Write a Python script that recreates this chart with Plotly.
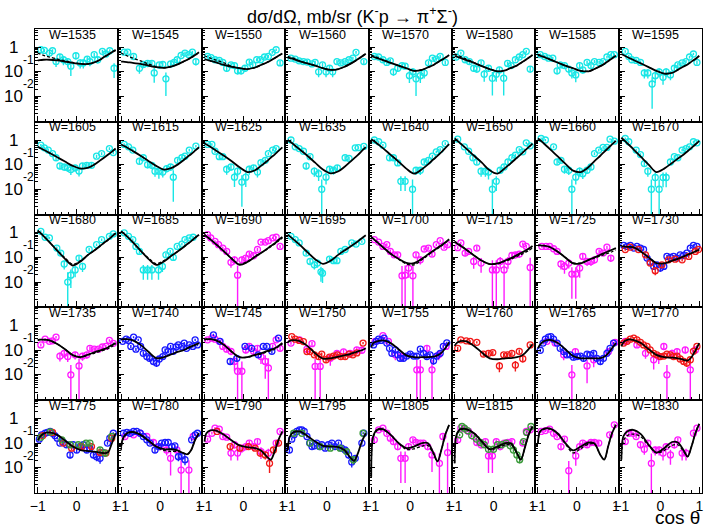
import plotly.graph_objects as go
from plotly.subplots import make_subplots

# energies (MeV) of the 40 panels, read left-to-right, top-to-bottom
W_LIST = [1535, 1545, 1550, 1560, 1570, 1580, 1585, 1595,
          1605, 1615, 1625, 1635, 1640, 1650, 1660, 1670,
          1680, 1685, 1690, 1695, 1700, 1715, 1725, 1730,
          1735, 1740, 1745, 1750, 1755, 1760, 1765, 1770,
          1775, 1780, 1790, 1795, 1805, 1815, 1820, 1830]

COS_GRID = [-1, -0.95, -0.85, -0.7, -0.5, -0.3, -0.1, 0.1, 0.3, 0.45, 0.6, 0.7, 0.8, 0.9, 1]

# model curves, mb/sr (solid)
SOLID = {
    1535: [0.29, 0.30, 0.31, 0.31, 0.29, 0.26, 0.23, 0.21, 0.21, 0.24, 0.31, 0.40, 0.49, 0.62, 0.76],
    1545: [0.26, 0.26, 0.25, 0.23, 0.21, 0.18, 0.155, 0.145, 0.165, 0.20, 0.26, 0.31, 0.38, 0.48, 0.62],
    1550: [0.33, 0.31, 0.28, 0.24, 0.19, 0.16, 0.14, 0.13, 0.15, 0.19, 0.24, 0.29, 0.36, 0.45, 0.56],
    1560: [0.38, 0.36, 0.33, 0.27, 0.22, 0.18, 0.14, 0.12, 0.13, 0.16, 0.21, 0.26, 0.33, 0.42, 0.54],
    1570: [0.44, 0.41, 0.36, 0.30, 0.23, 0.18, 0.14, 0.11, 0.12, 0.15, 0.19, 0.24, 0.30, 0.37, 0.48],
    1580: [0.45, 0.42, 0.37, 0.30, 0.23, 0.17, 0.13, 0.105, 0.115, 0.145, 0.18, 0.23, 0.29, 0.37, 0.48],
    1585: [0.48, 0.45, 0.40, 0.32, 0.24, 0.18, 0.14, 0.11, 0.105, 0.13, 0.17, 0.21, 0.27, 0.35, 0.45],
    1595: [0.53, 0.48, 0.40, 0.31, 0.22, 0.155, 0.11, 0.085, 0.09, 0.12, 0.165, 0.20, 0.26, 0.33, 0.45],
    1605: [0.53, 0.48, 0.40, 0.30, 0.20, 0.133, 0.089, 0.069, 0.076, 0.10, 0.146, 0.19, 0.25, 0.33, 0.45],
    1615: [0.66, 0.60, 0.50, 0.36, 0.23, 0.142, 0.089, 0.063, 0.074, 0.10, 0.15, 0.205, 0.27, 0.37, 0.51],
    1625: [0.72, 0.66, 0.53, 0.37, 0.23, 0.137, 0.078, 0.050, 0.059, 0.089, 0.137, 0.19, 0.255, 0.36, 0.50],
    1635: [1.0, 0.87, 0.66, 0.42, 0.23, 0.12, 0.063, 0.044, 0.054, 0.08, 0.13, 0.18, 0.25, 0.36, 0.51],
    1640: [1.08, 0.96, 0.72, 0.47, 0.25, 0.133, 0.069, 0.043, 0.065, 0.10, 0.165, 0.225, 0.32, 0.47, 0.68],
    1650: [1.15, 1.0, 0.72, 0.45, 0.23, 0.12, 0.059, 0.043, 0.074, 0.117, 0.19, 0.26, 0.37, 0.51, 0.72],
    1660: [1.15, 1.0, 0.72, 0.44, 0.22, 0.11, 0.057, 0.05, 0.08, 0.14, 0.23, 0.33, 0.47, 0.66, 0.93],
    1670: [1.23, 1.05, 0.74, 0.44, 0.21, 0.10, 0.05, 0.069, 0.117, 0.175, 0.26, 0.35, 0.48, 0.66, 0.93],
    1680: [1.23, 1.05, 0.74, 0.42, 0.19, 0.088, 0.047, 0.069, 0.13, 0.19, 0.29, 0.39, 0.51, 0.70, 0.96],
    1685: [1.15, 0.99, 0.72, 0.42, 0.19, 0.088, 0.05, 0.069, 0.12, 0.175, 0.26, 0.35, 0.46, 0.63, 0.84],
    1690: [0.84, 0.72, 0.54, 0.34, 0.175, 0.088, 0.05, 0.065, 0.107, 0.15, 0.22, 0.29, 0.37, 0.51, 0.68],
    1695: [0.84, 0.72, 0.53, 0.33, 0.165, 0.085, 0.055, 0.074, 0.13, 0.19, 0.27, 0.35, 0.45, 0.60, 0.79],
    1700: [0.68, 0.58, 0.42, 0.26, 0.14, 0.088, 0.06, 0.058, 0.088, 0.13, 0.19, 0.24, 0.31, 0.41, 0.55],
    1715: [0.42, 0.38, 0.30, 0.205, 0.12, 0.073, 0.054, 0.057, 0.075, 0.094, 0.125, 0.15, 0.18, 0.225, 0.29],
    1725: [0.31, 0.31, 0.30, 0.265, 0.175, 0.10, 0.057, 0.057, 0.08, 0.10, 0.128, 0.15, 0.175, 0.205, 0.24],
    1730: [0.28, 0.28, 0.27, 0.26, 0.175, 0.10, 0.059, 0.057, 0.073, 0.088, 0.11, 0.128, 0.15, 0.175, 0.205],
    1735: [0.26, 0.27, 0.27, 0.25, 0.18, 0.11, 0.063, 0.052, 0.067, 0.082, 0.098, 0.11, 0.13, 0.16, 0.195],
    1740: [0.265, 0.28, 0.28, 0.25, 0.165, 0.087, 0.048, 0.052, 0.069, 0.085, 0.10, 0.12, 0.143, 0.165, 0.195],
    1745: [0.26, 0.28, 0.28, 0.25, 0.165, 0.087, 0.052, 0.052, 0.065, 0.075, 0.092, 0.103, 0.12, 0.15, 0.195],
    1750: [0.21, 0.24, 0.255, 0.235, 0.15, 0.075, 0.046, 0.047, 0.055, 0.062, 0.07, 0.08, 0.09, 0.10, 0.12],
    1755: [0.13, 0.195, 0.23, 0.25, 0.195, 0.11, 0.062, 0.052, 0.052, 0.052, 0.055, 0.062, 0.078, 0.12, 0.21],
    1760: [0.15, 0.195, 0.235, 0.23, 0.15, 0.08, 0.047, 0.043, 0.047, 0.048, 0.052, 0.058, 0.075, 0.11, 0.175],
    1765: [0.12, 0.165, 0.23, 0.265, 0.20, 0.11, 0.058, 0.047, 0.047, 0.047, 0.048, 0.054, 0.075, 0.12, 0.195],
    1770: [0.143, 0.21, 0.265, 0.265, 0.195, 0.11, 0.065, 0.052, 0.05, 0.047, 0.041, 0.038, 0.052, 0.097, 0.195],
    1775: [0.127, 0.173, 0.24, 0.27, 0.215, 0.127, 0.072, 0.052, 0.047, 0.045, 0.041, 0.039, 0.041, 0.095, 0.25],
    1780: [0.07, 0.157, 0.25, 0.28, 0.215, 0.127, 0.072, 0.056, 0.056, 0.05, 0.039, 0.035, 0.052, 0.135, 0.25],
    1790: [0.115, 0.25, 0.325, 0.32, 0.215, 0.127, 0.08, 0.068, 0.062, 0.05, 0.028, 0.021, 0.045, 0.135, 0.295],
    1795: [0.052, 0.184, 0.277, 0.295, 0.195, 0.115, 0.077, 0.072, 0.068, 0.052, 0.026, 0.019, 0.039, 0.115, 0.25],
    1805: [0.0043, 0.184, 0.345, 0.37, 0.215, 0.1, 0.062, 0.072, 0.1, 0.1, 0.039, 0.018, 0.052, 0.215, 0.55],
    1815: [0.015, 0.215, 0.37, 0.37, 0.25, 0.115, 0.056, 0.072, 0.1, 0.095, 0.039, 0.021, 0.062, 0.215, 0.47],
    1820: [0.1, 0.295, 0.38, 0.39, 0.25, 0.1, 0.05, 0.072, 0.105, 0.095, 0.033, 0.021, 0.072, 0.25, 0.55],
    1830: [0.021, 0.184, 0.295, 0.345, 0.23, 0.085, 0.041, 0.062, 0.11, 0.105, 0.05, 0.028, 0.072, 0.25, 0.6],
}

# second model (dashed), only where it visibly differs from the solid one
DASHED = {
    1535: [0.58, 0.54, 0.47, 0.40, 0.33, 0.28, 0.24, 0.21, 0.21, 0.24, 0.31, 0.40, 0.49, 0.62, 0.76],
    1545: [0.58, 0.53, 0.45, 0.36, 0.28, 0.21, 0.165, 0.145, 0.165, 0.20, 0.26, 0.31, 0.38, 0.48, 0.62],
    1550: [0.45, 0.42, 0.36, 0.30, 0.23, 0.17, 0.14, 0.13, 0.15, 0.19, 0.24, 0.29, 0.36, 0.45, 0.56],
    1560: [0.43, 0.40, 0.36, 0.28, 0.22, 0.18, 0.14, 0.12, 0.13, 0.16, 0.21, 0.26, 0.33, 0.42, 0.54],
    1570: [0.48, 0.45, 0.39, 0.31, 0.23, 0.18, 0.14, 0.11, 0.12, 0.15, 0.19, 0.24, 0.30, 0.37, 0.48],
    1580: [0.52, 0.49, 0.42, 0.33, 0.24, 0.17, 0.13, 0.105, 0.115, 0.145, 0.18, 0.23, 0.29, 0.37, 0.48],
    1585: [0.51, 0.48, 0.41, 0.33, 0.24, 0.18, 0.14, 0.11, 0.105, 0.13, 0.17, 0.21, 0.27, 0.35, 0.45],
    1680: [1.23, 1.05, 0.74, 0.42, 0.19, 0.095, 0.053, 0.074, 0.13, 0.19, 0.29, 0.39, 0.51, 0.70, 0.96],
    1685: [1.15, 0.99, 0.72, 0.42, 0.19, 0.095, 0.056, 0.074, 0.12, 0.175, 0.26, 0.35, 0.46, 0.63, 0.84],
    1690: [0.84, 0.72, 0.54, 0.34, 0.175, 0.09, 0.053, 0.068, 0.11, 0.155, 0.21, 0.27, 0.35, 0.47, 0.62],
    1700: [0.68, 0.58, 0.42, 0.26, 0.14, 0.085, 0.055, 0.05, 0.08, 0.12, 0.18, 0.23, 0.29, 0.39, 0.52],
    1715: [0.45, 0.40, 0.32, 0.21, 0.12, 0.073, 0.054, 0.055, 0.07, 0.085, 0.11, 0.13, 0.155, 0.19, 0.24],
    1725: [0.31, 0.31, 0.30, 0.265, 0.175, 0.10, 0.06, 0.06, 0.078, 0.095, 0.115, 0.13, 0.15, 0.17, 0.20],
    1735: [0.26, 0.27, 0.27, 0.25, 0.18, 0.11, 0.063, 0.052, 0.064, 0.075, 0.09, 0.10, 0.115, 0.14, 0.175],
    1745: [0.26, 0.28, 0.28, 0.25, 0.165, 0.087, 0.052, 0.052, 0.062, 0.07, 0.085, 0.095, 0.11, 0.14, 0.18],
    1780: [0.05, 0.14, 0.24, 0.28, 0.215, 0.127, 0.072, 0.05, 0.046, 0.045, 0.039, 0.035, 0.052, 0.135, 0.25],
    1805: [0.0043, 0.17, 0.32, 0.35, 0.215, 0.1, 0.055, 0.058, 0.075, 0.08, 0.035, 0.018, 0.052, 0.215, 0.55],
    1815: [0.015, 0.2, 0.35, 0.36, 0.25, 0.115, 0.056, 0.062, 0.085, 0.085, 0.039, 0.021, 0.062, 0.215, 0.47],
    1820: [0.1, 0.28, 0.36, 0.37, 0.24, 0.095, 0.04, 0.06, 0.09, 0.09, 0.033, 0.021, 0.072, 0.25, 0.55],
    1830: [0.021, 0.12, 0.2, 0.23, 0.18, 0.08, 0.04, 0.05, 0.08, 0.085, 0.045, 0.028, 0.072, 0.25, 0.6],
}

# measured points: (cos theta, dsigma/dOmega mb/sr, relative error)
CYAN = {
    1535: [(-0.92, 0.79, 0.15), (-0.83, 0.74, 0.15), (-0.70, 0.58, 0.2), (-0.62, 0.72, 0.15), (-0.53, 0.26, 0.4),
           (-0.43, 0.40, 0.3), (-0.34, 0.31, 0.4), (-0.23, 0.26, 0.4), (-0.15, 0.17, 0.6), (-0.02, 0.45, 0.3),
           (0.09, 0.23, 0.4), (0.17, 0.23, 0.4), (0.27, 0.33, 0.3), (0.34, 0.26, 0.35), (0.45, 0.50, 0.2),
           (0.54, 0.31, 0.3), (0.66, 0.68, 0.15), (0.75, 0.53, 0.2), (0.85, 0.72, 0.15), (0.96, 0.14, 0.6)],
    1545: [(-0.92, 0.63, 0.15), (-0.83, 0.63, 0.15), (-0.68, 0.42, 0.2), (-0.53, 0.14, 0.4), (-0.43, 0.20, 0.3),
           (-0.32, 0.22, 0.3), (-0.21, 0.22, 0.3), (-0.15, 0.09, 0.6), (-0.02, 0.19, 0.3), (0.07, 0.20, 0.3),
           (0.15, 0.052, 0.8), (0.27, 0.21, 0.3), (0.36, 0.24, 0.25), (0.44, 0.31, 0.2), (0.54, 0.46, 0.15),
           (0.64, 0.58, 0.15), (0.74, 0.50, 0.15), (0.83, 0.63, 0.15), (0.92, 0.26, 0.3)],
    1550: [(-0.92, 0.42, 0.15), (-0.83, 0.38, 0.15), (-0.73, 0.31, 0.2), (-0.62, 0.29, 0.2), (-0.53, 0.24, 0.2),
           (-0.43, 0.14, 0.3), (-0.32, 0.19, 0.25), (-0.23, 0.18, 0.25), (-0.15, 0.11, 0.3), (-0.06, 0.11, 0.3),
           (0.04, 0.14, 0.3), (0.15, 0.25, 0.2), (0.24, 0.19, 0.2), (0.34, 0.31, 0.15), (0.44, 0.31, 0.15),
           (0.54, 0.40, 0.15), (0.64, 0.42, 0.15), (0.74, 0.62, 0.12), (0.84, 0.79, 0.12), (0.94, 0.23, 0.25)],
    1560: [(-0.92, 0.36, 0.15), (-0.81, 0.33, 0.15), (-0.71, 0.28, 0.2), (-0.60, 0.26, 0.2), (-0.50, 0.25, 0.2),
           (-0.38, 0.21, 0.2), (-0.30, 0.24, 0.2), (-0.21, 0.10, 0.4), (-0.11, 0.19, 0.25), (-0.02, 0.10, 0.4),
           (0.07, 0.14, 0.3), (0.15, 0.10, 0.4), (0.26, 0.26, 0.2), (0.36, 0.23, 0.2), (0.47, 0.26, 0.2),
           (0.57, 0.31, 0.15), (0.67, 0.36, 0.15), (0.75, 0.62, 0.12), (0.95, 0.26, 0.2)],
    1570: [(-0.92, 0.42, 0.15), (-0.81, 0.40, 0.15), (-0.70, 0.31, 0.2), (-0.60, 0.24, 0.2), (-0.51, 0.28, 0.2),
           (-0.43, 0.10, 0.3), (-0.32, 0.14, 0.3), (-0.21, 0.18, 0.25), (-0.13, 0.17, 0.25), (-0.02, 0.07, 0.5),
           (0.07, 0.10, 0.4), (0.15, 0.052, 0.8), (0.26, 0.07, 0.5), (0.36, 0.09, 0.4), (0.47, 0.23, 0.2),
           (0.57, 0.36, 0.15), (0.67, 0.33, 0.15), (0.77, 0.42, 0.15), (0.90, 0.24, 0.2)],
    1580: [(-0.96, 0.40, 0.15), (-0.84, 0.58, 0.12), (-0.73, 0.31, 0.2), (-0.62, 0.26, 0.2), (-0.51, 0.14, 0.3),
           (-0.43, 0.13, 0.3), (-0.32, 0.23, 0.25), (-0.24, 0.08, 0.5), (-0.13, 0.14, 0.3), (-0.03, 0.055, 0.8),
           (0.07, 0.08, 0.5), (0.15, 0.12, 0.35), (0.26, 0.055, 0.8), (0.36, 0.22, 0.2), (0.45, 0.18, 0.2),
           (0.56, 0.31, 0.15), (0.66, 0.40, 0.15), (0.75, 0.50, 0.12), (0.84, 0.68, 0.12), (0.94, 0.13, 0.3)],
    1585: [(-0.94, 0.50, 0.15), (-0.83, 0.42, 0.15), (-0.73, 0.36, 0.15), (-0.62, 0.36, 0.15), (-0.51, 0.11, 0.3),
           (-0.43, 0.19, 0.25), (-0.32, 0.18, 0.25), (-0.21, 0.13, 0.3), (-0.13, 0.09, 0.4), (-0.03, 0.075, 0.5),
           (0.07, 0.18, 0.25), (0.15, 0.12, 0.3), (0.26, 0.24, 0.2), (0.36, 0.18, 0.2), (0.45, 0.26, 0.15),
           (0.57, 0.24, 0.15), (0.67, 0.26, 0.15), (0.77, 0.40, 0.12), (0.87, 0.50, 0.12), (0.96, 0.50, 0.12)],
    1595: [(-0.90, 0.68, 0.12), (-0.81, 0.42, 0.15), (-0.73, 0.31, 0.15), (-0.62, 0.29, 0.2), (-0.51, 0.24, 0.2),
           (-0.41, 0.09, 0.4), (-0.32, 0.09, 0.4), (-0.21, 0.032, 0.9), (-0.13, 0.07, 0.5), (-0.03, 0.10, 0.4),
           (0.07, 0.06, 0.5), (0.15, 0.10, 0.4), (0.26, 0.075, 0.4), (0.36, 0.14, 0.25), (0.45, 0.19, 0.2),
           (0.56, 0.23, 0.15), (0.66, 0.26, 0.15), (0.75, 0.40, 0.12), (0.85, 0.53, 0.12), (0.94, 0.24, 0.2)],
    1605: [(-0.92, 0.62, 0.12), (-0.83, 0.48, 0.12), (-0.73, 0.39, 0.15), (-0.62, 0.28, 0.15), (-0.53, 0.19, 0.2),
           (-0.43, 0.089, 0.3), (-0.32, 0.08, 0.3), (-0.23, 0.074, 0.3), (-0.15, 0.063, 0.4), (-0.04, 0.074, 0.3),
           (0.06, 0.055, 0.4), (0.15, 0.089, 0.3), (0.26, 0.094, 0.3), (0.38, 0.094, 0.25), (0.51, 0.22, 0.15),
           (0.64, 0.28, 0.15), (0.84, 0.45, 0.12), (0.94, 0.31, 0.15)],
    1615: [(-0.92, 0.66, 0.12), (-0.81, 0.53, 0.12), (-0.70, 0.39, 0.15), (-0.53, 0.137, 0.25), (-0.43, 0.19, 0.2),
           (-0.32, 0.10, 0.3), (-0.21, 0.094, 0.3), (-0.13, 0.054, 0.4), (-0.03, 0.054, 0.5), (0.07, 0.05, 0.4),
           (0.17, 0.069, 0.3), (0.27, 0.08, 0.3), (0.34, 0.031, 0.9), (0.45, 0.15, 0.2), (0.56, 0.19, 0.15),
           (0.64, 0.22, 0.15), (0.75, 0.39, 0.12), (0.92, 0.56, 0.12)],
    1625: [(-0.92, 0.66, 0.12), (-0.81, 0.66, 0.12), (-0.73, 0.35, 0.15), (-0.62, 0.21, 0.2), (-0.53, 0.21, 0.2),
           (-0.43, 0.065, 0.4), (-0.32, 0.08, 0.3), (-0.23, 0.031, 0.6), (-0.15, 0.054, 0.4), (-0.04, 0.0195, 0.9),
           (0.06, 0.031, 0.6), (0.15, 0.065, 0.4), (0.26, 0.074, 0.3), (0.36, 0.05, 0.4), (0.45, 0.12, 0.25),
           (0.56, 0.15, 0.2), (0.64, 0.28, 0.15), (0.75, 0.39, 0.12), (0.84, 0.45, 0.12)],
    1635: [(-0.92, 1.0, 0.12), (-0.81, 0.53, 0.12), (-0.71, 0.45, 0.12), (-0.60, 0.35, 0.15), (-0.53, 0.089, 0.3),
           (-0.43, 0.21, 0.2), (-0.32, 0.054, 0.4), (-0.21, 0.043, 0.5), (-0.13, 0.01, 1.5), (-0.02, 0.031, 0.5),
           (0.07, 0.065, 0.35), (0.17, 0.06, 0.35), (0.27, 0.074, 0.3), (0.47, 0.19, 0.2), (0.57, 0.18, 0.2),
           (0.73, 0.48, 0.12), (0.81, 0.49, 0.12), (0.95, 0.55, 0.12)],
    1640: [(-0.92, 1.0, 0.12), (-0.81, 0.85, 0.12), (-0.70, 0.62, 0.12), (-0.53, 0.19, 0.2), (-0.43, 0.19, 0.2),
           (-0.32, 0.117, 0.25), (-0.24, 0.021, 0.6), (-0.13, 0.021, 0.6), (0.06, 0.01, 1.5), (0.15, 0.059, 0.35),
           (0.26, 0.059, 0.35), (0.36, 0.128, 0.2), (0.47, 0.15, 0.2), (0.57, 0.22, 0.15), (0.67, 0.33, 0.12),
           (0.77, 0.41, 0.12), (0.90, 0.72, 0.12)],
    1650: [(-0.92, 1.08, 0.1), (-0.75, 0.53, 0.12), (-0.64, 0.35, 0.15), (-0.53, 0.19, 0.2), (-0.43, 0.128, 0.2),
           (-0.32, 0.054, 0.4), (-0.21, 0.054, 0.4), (-0.13, 0.05, 0.5), (-0.03, 0.01, 1.5), (0.07, 0.021, 0.6),
           (0.17, 0.059, 0.3), (0.27, 0.08, 0.25), (0.37, 0.128, 0.2), (0.47, 0.19, 0.15), (0.56, 0.24, 0.15),
           (0.66, 0.41, 0.12), (0.75, 0.33, 0.12), (0.84, 0.77, 0.1), (0.94, 0.58, 0.12)],
    1660: [(-0.92, 1.15, 0.1), (-0.81, 1.0, 0.1), (-0.60, 0.53, 0.12), (-0.51, 0.128, 0.25), (-0.41, 0.15, 0.2),
           (-0.32, 0.065, 0.35), (-0.21, 0.059, 0.35), (-0.13, 0.01, 1.5), (-0.03, 0.031, 0.5), (0.07, 0.054, 0.4),
           (0.15, 0.043, 0.4), (0.26, 0.059, 0.3), (0.36, 0.08, 0.25), (0.45, 0.28, 0.15), (0.56, 0.39, 0.12),
           (0.67, 0.50, 0.12), (0.77, 0.50, 0.12), (0.85, 1.08, 0.1), (0.96, 0.90, 0.1)],
    1670: [(-0.90, 1.15, 0.1), (-0.81, 0.85, 0.1), (-0.62, 0.39, 0.12), (-0.51, 0.255, 0.15), (-0.41, 0.11, 0.25),
           (-0.32, 0.054, 0.4), (-0.23, 0.01, 1.5), (-0.13, 0.03, 0.6), (-0.03, 0.01, 1.5), (0.07, 0.03, 0.6),
           (0.15, 0.03, 0.6), (0.26, 0.128, 0.2), (0.36, 0.21, 0.15), (0.45, 0.19, 0.15), (0.56, 0.39, 0.12),
           (0.66, 0.45, 0.12), (0.75, 0.53, 0.12), (0.85, 0.85, 0.1), (0.94, 0.77, 0.1)],
    1680: [(-0.92, 1.15, 0.1), (-0.81, 0.66, 0.12), (-0.70, 0.62, 0.12), (-0.51, 0.24, 0.15), (-0.41, 0.15, 0.2),
           (-0.32, 0.054, 0.4), (-0.23, 0.01, 1.5), (-0.15, 0.019, 0.7), (-0.04, 0.031, 0.5), (0.06, 0.094, 0.25),
           (0.15, 0.043, 0.4), (0.32, 0.21, 0.15), (0.51, 0.33, 0.12), (0.64, 0.53, 0.12), (0.84, 0.72, 0.1),
           (0.94, 0.90, 0.1)],
    1685: [(-0.92, 1.0, 0.1), (-0.81, 0.72, 0.1), (-0.70, 0.53, 0.12), (-0.62, 0.28, 0.15), (-0.53, 0.175, 0.2),
           (-0.43, 0.031, 0.6), (-0.32, 0.031, 0.6), (-0.21, 0.031, 0.6), (-0.04, 0.031, 0.6), (0.06, 0.043, 0.4),
           (0.15, 0.128, 0.2), (0.26, 0.175, 0.15), (0.34, 0.10, 0.25), (0.44, 0.28, 0.15), (0.56, 0.35, 0.12),
           (0.64, 0.53, 0.12), (0.75, 0.62, 0.12), (0.85, 0.66, 0.12)],
    1695: [(-0.92, 0.72, 0.1), (-0.81, 0.53, 0.12), (-0.71, 0.39, 0.12), (-0.53, 0.15, 0.2), (-0.43, 0.069, 0.3),
           (-0.32, 0.05, 0.35), (-0.24, 0.059, 0.35), (-0.15, 0.026, 0.6), (-0.11, 0.023, 0.6), (0.07, 0.086, 0.25),
           (0.17, 0.074, 0.25), (0.26, 0.074, 0.25), (0.36, 0.175, 0.15), (0.47, 0.21, 0.15), (0.64, 0.39, 0.12),
           (0.75, 0.35, 0.12), (0.90, 0.45, 0.12)],
}

MAGENTA = {
    1690: [(-0.92, 0.84, 0.1), (-0.84, 0.62, 0.12), (-0.73, 0.45, 0.12), (-0.64, 0.33, 0.15), (-0.53, 0.24, 0.15),
           (-0.43, 0.175, 0.2), (-0.32, 0.063, 0.4), (-0.23, 0.08, 0.35), (-0.15, 0.019, 1.5), (-0.04, 0.08, 0.35),
           (0.06, 0.094, 0.3), (0.15, 0.137, 0.25), (0.26, 0.117, 0.25), (0.36, 0.21, 0.15), (0.45, 0.42, 0.12),
           (0.56, 0.42, 0.12), (0.64, 0.48, 0.12), (0.75, 0.62, 0.1), (0.84, 0.66, 0.1), (0.94, 0.28, 0.15)],
    1700: [(-0.92, 0.53, 0.12), (-0.81, 0.42, 0.12), (-0.70, 0.28, 0.15), (-0.60, 0.33, 0.15), (-0.51, 0.175, 0.2),
           (-0.41, 0.128, 0.25), (-0.32, 0.128, 0.25), (-0.21, 0.018, 1.5), (-0.13, 0.019, 1.5), (-0.04, 0.037, 0.6),
           (0.07, 0.018, 1.5), (0.15, 0.128, 0.25), (0.26, 0.08, 0.35), (0.36, 0.22, 0.15), (0.47, 0.24, 0.15),
           (0.56, 0.137, 0.2), (0.67, 0.33, 0.12), (0.77, 0.48, 0.12), (0.87, 0.26, 0.15), (0.96, 0.33, 0.15)],
    1715: [(-0.92, 0.25, 0.15), (-0.84, 0.39, 0.12), (-0.73, 0.15, 0.25), (-0.64, 0.175, 0.2), (-0.51, 0.069, 0.5),
           (-0.43, 0.24, 0.2), (-0.32, 0.059, 0.6), (-0.03, 0.031, 1.5), (0.07, 0.031, 1.5), (0.17, 0.069, 0.5),
           (0.27, 0.031, 1.5), (0.37, 0.069, 0.5), (0.47, 0.12, 0.3), (0.56, 0.128, 0.3), (0.66, 0.137, 0.3),
           (0.75, 0.35, 0.15), (0.84, 0.28, 0.15), (0.94, 0.039, 1.5)],
    1725: [(-0.90, 0.28, 0.12), (-0.79, 0.28, 0.12), (-0.70, 0.28, 0.12), (-0.60, 0.225, 0.15), (-0.51, 0.175, 0.2),
           (-0.41, 0.054, 0.4), (-0.32, 0.043, 0.5), (-0.21, 0.059, 0.4), (-0.13, 0.021, 0.9), (-0.03, 0.021, 0.9),
           (0.07, 0.037, 0.6), (0.15, 0.11, 0.25), (0.26, 0.069, 0.35), (0.36, 0.069, 0.35), (0.45, 0.08, 0.3),
           (0.57, 0.175, 0.2), (0.67, 0.15, 0.2), (0.77, 0.26, 0.15), (0.87, 0.094, 0.3)],
    1735: [(-0.92, 0.165, 0.15), (-0.81, 0.28, 0.12), (-0.70, 0.23, 0.12), (-0.62, 0.24, 0.12), (-0.53, 0.34, 0.12),
           (-0.43, 0.058, 0.4), (-0.32, 0.075, 0.35), (-0.23, 0.055, 0.4), (-0.15, 0.01, 1.5), (-0.04, 0.065, 0.35),
           (0.06, 0.023, 1.0), (0.15, 0.058, 0.35), (0.26, 0.065, 0.3), (0.34, 0.12, 0.2), (0.45, 0.11, 0.2),
           (0.56, 0.11, 0.2), (0.66, 0.135, 0.2), (0.75, 0.143, 0.15), (0.84, 0.25, 0.12), (0.94, 0.19, 0.12)],
    1745: [(-0.92, 0.265, 0.12), (-0.81, 0.31, 0.12), (-0.73, 0.28, 0.12), (-0.62, 0.23, 0.15), (-0.53, 0.143, 0.2),
           (-0.43, 0.11, 0.25), (-0.32, 0.09, 0.3), (-0.23, 0.035, 0.6), (-0.15, 0.014, 1.5), (-0.04, 0.014, 1.5),
           (0.06, 0.103, 0.3), (0.15, 0.143, 0.25), (0.26, 0.09, 0.3), (0.36, 0.12, 0.25), (0.45, 0.055, 0.5),
           (0.56, 0.035, 0.8), (0.64, 0.019, 1.5), (0.75, 0.143, 0.2), (0.84, 0.265, 0.15), (0.94, 0.12, 0.25)],
    1750: [(-0.92, 0.195, 0.15), (-0.70, 0.265, 0.12), (-0.51, 0.11, 0.25), (-0.38, 0.185, 0.2), (-0.30, 0.022, 1.0),
           (-0.17, 0.022, 1.0), (0.09, 0.047, 0.5), (0.26, 0.075, 0.35), (0.43, 0.085, 0.3), (0.60, 0.075, 0.35),
           (0.77, 0.103, 0.3), (0.90, 0.10, 0.3)],
    1755: [(-0.90, 0.23, 0.15), (-0.70, 0.39, 0.12), (-0.56, 0.23, 0.15), (-0.38, 0.065, 0.4), (-0.21, 0.055, 0.4),
           (0.17, 0.016, 1.5), (0.26, 0.016, 1.5), (0.43, 0.12, 0.3), (0.56, 0.016, 1.5), (0.73, 0.065, 0.4),
           (0.92, 0.143, 0.25)],
    1765: [(-0.77, 0.23, 0.15), (-0.56, 0.195, 0.15), (-0.34, 0.065, 0.4), (-0.13, 0.01, 1.5), (-0.04, 0.088, 0.3),
           (0.26, 0.023, 0.8), (0.43, 0.041, 0.5), (0.81, 0.088, 0.3), (0.98, 0.21, 0.15)],
    1770: [(-0.90, 0.23, 0.15), (-0.60, 0.165, 0.2), (-0.38, 0.075, 0.4), (-0.17, 0.041, 0.6), (-0.04, 0.055, 0.5),
           (0.09, 0.143, 0.3), (0.17, 0.01, 1.5), (0.30, 0.075, 0.4), (0.43, 0.088, 0.35), (0.64, 0.103, 0.3),
           (0.77, 0.016, 1.0), (0.90, 0.103, 0.3)],
    1780: [(-0.90, 0.184, 0.15), (-0.68, 0.215, 0.15), (-0.51, 0.25, 0.15), (-0.34, 0.184, 0.15), (-0.17, 0.105, 0.25),
           (0.0, 0.072, 0.3), (0.17, 0.052, 0.4), (0.27, 0.024, 0.8), (0.43, 0.052, 0.4), (0.54, 0.008, 1.5),
           (0.74, 0.008, 1.5), (0.85, 0.184, 0.2)],
    1790: [(-0.92, 0.143, 0.15), (-0.81, 0.25, 0.12), (-0.73, 0.40, 0.12), (-0.62, 0.37, 0.12), (-0.53, 0.184, 0.15),
           (-0.43, 0.173, 0.15), (-0.32, 0.039, 0.5), (-0.23, 0.085, 0.3), (-0.15, 0.039, 0.5), (-0.04, 0.062, 0.35),
           (0.06, 0.072, 0.3), (0.15, 0.10, 0.25), (0.26, 0.072, 0.3), (0.36, 0.115, 0.25), (0.45, 0.045, 0.5),
           (0.64, 0.039, 0.5), (0.84, 0.10, 0.25), (0.94, 0.295, 0.12)],
    1805: [(-0.92, 0.135, 0.2), (-0.81, 0.345, 0.12), (-0.70, 0.40, 0.12), (-0.60, 0.25, 0.15), (-0.51, 0.157, 0.2),
           (-0.43, 0.115, 0.25), (-0.32, 0.072, 0.3), (-0.24, 0.024, 0.9), (-0.13, 0.024, 0.9), (-0.04, 0.072, 0.3),
           (0.07, 0.135, 0.2), (0.15, 0.105, 0.25), (0.26, 0.10, 0.25), (0.34, 0.10, 0.25), (0.45, 0.072, 0.3),
           (0.56, 0.033, 0.8), (0.75, 0.015, 1.5), (0.84, 0.184, 0.2), (0.96, 0.041, 1.5)],
    1815: [(-0.92, 0.135, 0.2), (-0.84, 0.40, 0.12), (-0.73, 0.37, 0.12), (-0.64, 0.295, 0.12), (-0.51, 0.184, 0.15),
           (-0.43, 0.105, 0.25), (-0.32, 0.085, 0.3), (-0.21, 0.115, 0.25), (-0.13, 0.03, 0.8), (-0.03, 0.03, 0.8),
           (0.07, 0.115, 0.25), (0.17, 0.072, 0.3), (0.27, 0.10, 0.25), (0.37, 0.105, 0.25), (0.47, 0.115, 0.25),
           (0.75, 0.10, 0.25), (0.84, 0.295, 0.12), (0.94, 0.345, 0.12)],
    1820: [(-0.92, 0.295, 0.12), (-0.81, 0.32, 0.12), (-0.70, 0.37, 0.12), (-0.60, 0.25, 0.15), (-0.51, 0.184, 0.15),
           (-0.41, 0.072, 0.3), (-0.32, 0.143, 0.2), (-0.21, 0.0075, 1.5), (-0.03, 0.03, 0.6), (0.07, 0.072, 0.3),
           (0.15, 0.10, 0.25), (0.26, 0.085, 0.25), (0.36, 0.105, 0.25), (0.45, 0.105, 0.25), (0.56, 0.10, 0.25),
           (0.84, 0.215, 0.15), (0.96, 0.55, 0.12)],
    1830: [(-0.90, 0.115, 0.2), (-0.81, 0.25, 0.15), (-0.70, 0.25, 0.15), (-0.62, 0.184, 0.15), (-0.51, 0.085, 0.3),
           (-0.41, 0.056, 0.4), (-0.32, 0.10, 0.3), (-0.23, 0.015, 1.5), (-0.13, 0.052, 0.4), (-0.03, 0.052, 0.4),
           (0.07, 0.039, 0.5), (0.15, 0.072, 0.3), (0.26, 0.033, 0.6), (0.36, 0.085, 0.3), (0.45, 0.135, 0.2),
           (0.56, 0.039, 0.5), (0.66, 0.039, 0.5), (0.85, 0.25, 0.15), (0.94, 0.40, 0.12)],
}

BLUE = {
    1730: [(-0.94, 0.31, 0.1), (-0.85, 0.28, 0.1), (-0.77, 0.31, 0.1), (-0.68, 0.24, 0.1), (-0.60, 0.28, 0.1),
           (-0.51, 0.24, 0.1), (-0.43, 0.21, 0.12), (-0.34, 0.094, 0.15), (-0.26, 0.065, 0.2), (-0.17, 0.043, 0.25),
           (-0.09, 0.05, 0.25), (0.0, 0.037, 0.3), (0.09, 0.043, 0.25), (0.17, 0.11, 0.15), (0.26, 0.10, 0.15),
           (0.34, 0.11, 0.15), (0.43, 0.094, 0.15), (0.51, 0.128, 0.12), (0.60, 0.12, 0.12), (0.68, 0.15, 0.12),
           (0.77, 0.24, 0.1), (0.85, 0.31, 0.1), (0.94, 0.28, 0.1)],
    1740: [(-0.96, 0.23, 0.1), (-0.87, 0.28, 0.1), (-0.81, 0.25, 0.1), (-0.75, 0.143, 0.15), (-0.68, 0.34, 0.1),
           (-0.62, 0.11, 0.15), (-0.56, 0.265, 0.1), (-0.50, 0.143, 0.15), (-0.43, 0.075, 0.2), (-0.34, 0.055, 0.25),
           (-0.27, 0.047, 0.25), (-0.17, 0.035, 0.3), (-0.09, 0.03, 0.3), (-0.02, 0.044, 0.25), (0.07, 0.055, 0.25),
           (0.13, 0.103, 0.15), (0.21, 0.09, 0.15), (0.27, 0.143, 0.15), (0.34, 0.09, 0.15), (0.41, 0.135, 0.15),
           (0.47, 0.165, 0.12), (0.56, 0.143, 0.12), (0.62, 0.195, 0.12), (0.68, 0.12, 0.15), (0.75, 0.165, 0.12),
           (0.84, 0.143, 0.12), (0.90, 0.265, 0.1), (0.96, 0.165, 0.12)],
    1745: [(-0.77, 0.42, 0.1), (-0.60, 0.23, 0.12), (-0.34, 0.035, 0.3), (-0.17, 0.047, 0.25), (0.04, 0.143, 0.15),
           (0.21, 0.12, 0.15), (0.38, 0.065, 0.25), (0.51, 0.143, 0.15), (0.60, 0.143, 0.15), (0.73, 0.09, 0.2),
           (0.90, 0.31, 0.1)],
    1755: [(-0.94, 0.165, 0.12), (-0.87, 0.23, 0.1), (-0.81, 0.28, 0.1), (-0.75, 0.25, 0.1), (-0.67, 0.31, 0.1),
           (-0.60, 0.195, 0.12), (-0.53, 0.12, 0.15), (-0.47, 0.075, 0.2), (-0.38, 0.103, 0.15), (-0.32, 0.065, 0.2),
           (-0.26, 0.047, 0.25), (-0.17, 0.047, 0.25), (-0.09, 0.058, 0.2), (0.0, 0.07, 0.2), (0.09, 0.058, 0.2),
           (0.17, 0.058, 0.2), (0.26, 0.11, 0.15), (0.34, 0.075, 0.2), (0.43, 0.055, 0.25), (0.51, 0.065, 0.2),
           (0.60, 0.037, 0.3), (0.68, 0.058, 0.2), (0.77, 0.075, 0.2), (0.85, 0.143, 0.12), (0.94, 0.20, 0.1)],
    1765: [(-0.94, 0.10, 0.15), (-0.87, 0.195, 0.12), (-0.81, 0.28, 0.1), (-0.73, 0.34, 0.1), (-0.67, 0.36, 0.1),
           (-0.60, 0.28, 0.1), (-0.51, 0.195, 0.12), (-0.43, 0.12, 0.15), (-0.34, 0.088, 0.15), (-0.26, 0.065, 0.2),
           (-0.17, 0.065, 0.2), (-0.09, 0.052, 0.25), (0.0, 0.055, 0.25), (0.09, 0.058, 0.2), (0.17, 0.047, 0.25),
           (0.26, 0.07, 0.2), (0.34, 0.065, 0.2), (0.43, 0.075, 0.2), (0.51, 0.047, 0.25), (0.60, 0.035, 0.3),
           (0.68, 0.047, 0.25), (0.77, 0.075, 0.2), (0.85, 0.12, 0.15), (0.94, 0.195, 0.12)],
    1775: [(-0.96, 0.143, 0.12), (-0.90, 0.215, 0.1), (-0.81, 0.25, 0.1), (-0.75, 0.27, 0.1), (-0.68, 0.295, 0.1),
           (-0.62, 0.25, 0.1), (-0.56, 0.20, 0.12), (-0.50, 0.157, 0.12), (-0.43, 0.10, 0.15), (-0.34, 0.105, 0.15),
           (-0.26, 0.085, 0.2), (-0.17, 0.033, 0.3), (-0.09, 0.085, 0.2), (0.0, 0.052, 0.25), (0.09, 0.072, 0.2),
           (0.17, 0.085, 0.2), (0.26, 0.052, 0.25), (0.34, 0.061, 0.25), (0.43, 0.033, 0.3), (0.51, 0.028, 0.35),
           (0.60, 0.024, 0.4), (0.68, 0.041, 0.3), (0.79, 0.10, 0.15), (0.85, 0.157, 0.12), (0.94, 0.25, 0.1)],
    1780: [(-0.94, 0.25, 0.1), (-0.85, 0.27, 0.1), (-0.77, 0.25, 0.1), (-0.68, 0.295, 0.1), (-0.60, 0.295, 0.1),
           (-0.51, 0.25, 0.1), (-0.43, 0.184, 0.12), (-0.34, 0.135, 0.15), (-0.26, 0.10, 0.15), (-0.13, 0.052, 0.25),
           (-0.04, 0.072, 0.2), (0.04, 0.10, 0.15), (0.13, 0.105, 0.15), (0.21, 0.105, 0.15), (0.30, 0.072, 0.2),
           (0.38, 0.077, 0.2), (0.47, 0.028, 0.35), (0.56, 0.03, 0.35), (0.64, 0.021, 0.4), (0.81, 0.135, 0.15),
           (0.90, 0.215, 0.1), (0.96, 0.25, 0.1)],
    1795: [(-0.96, 0.052, 0.25), (-0.90, 0.143, 0.12), (-0.84, 0.215, 0.1), (-0.77, 0.295, 0.1), (-0.70, 0.345, 0.1),
           (-0.64, 0.345, 0.1), (-0.58, 0.295, 0.1), (-0.51, 0.184, 0.12), (-0.44, 0.10, 0.15), (-0.38, 0.072, 0.2),
           (-0.32, 0.077, 0.2), (-0.26, 0.10, 0.15), (-0.19, 0.072, 0.2), (-0.13, 0.085, 0.2), (-0.04, 0.062, 0.2),
           (0.04, 0.085, 0.2), (0.13, 0.10, 0.15), (0.21, 0.072, 0.2), (0.30, 0.10, 0.15), (0.38, 0.062, 0.2),
           (0.47, 0.052, 0.25), (0.56, 0.033, 0.3), (0.64, 0.017, 0.4), (0.73, 0.024, 0.35), (0.90, 0.10, 0.15),
           (0.95, 0.25, 0.1)],
}

RED = {
    1730: [(-0.90, 0.21, 0.1), (-0.77, 0.26, 0.1), (-0.56, 0.21, 0.1), (-0.38, 0.128, 0.15), (-0.26, 0.059, 0.2),
           (-0.13, 0.029, 0.35), (0.04, 0.05, 0.25), (0.21, 0.08, 0.2), (0.38, 0.085, 0.15), (0.56, 0.08, 0.15),
           (0.73, 0.11, 0.15), (0.90, 0.175, 0.12), (0.98, 0.21, 0.1)],
    1750: [(-0.90, 0.36, 0.1), (-0.81, 0.28, 0.1), (-0.71, 0.25, 0.1), (-0.60, 0.225, 0.1), (-0.51, 0.088, 0.15),
           (-0.43, 0.088, 0.15), (-0.32, 0.065, 0.15), (-0.21, 0.055, 0.2), (-0.13, 0.07, 0.15), (-0.02, 0.041, 0.2),
           (0.07, 0.052, 0.2), (0.17, 0.058, 0.2), (0.27, 0.065, 0.15), (0.36, 0.055, 0.2), (0.47, 0.055, 0.2),
           (0.57, 0.07, 0.15), (0.67, 0.065, 0.15), (0.77, 0.078, 0.15), (0.93, 0.195, 0.1)],
    1760: [(-0.92, 0.12, 0.15), (-0.84, 0.265, 0.1), (-0.70, 0.24, 0.1), (-0.60, 0.23, 0.1), (-0.43, 0.21, 0.1),
           (-0.26, 0.07, 0.2), (-0.13, 0.075, 0.2), (-0.02, 0.08, 0.2), (0.15, 0.023, 0.45), (0.26, 0.065, 0.2),
           (0.36, 0.065, 0.2), (0.47, 0.075, 0.2), (0.56, 0.025, 0.45), (0.66, 0.09, 0.2), (0.75, 0.045, 0.3),
           (0.94, 0.165, 0.12)],
    1770: [(-0.94, 0.195, 0.1), (-0.85, 0.23, 0.1), (-0.77, 0.28, 0.1), (-0.68, 0.31, 0.1), (-0.60, 0.265, 0.1),
           (-0.51, 0.21, 0.1), (-0.43, 0.165, 0.12), (-0.34, 0.143, 0.12), (-0.26, 0.103, 0.15), (-0.17, 0.075, 0.15),
           (-0.09, 0.065, 0.15), (0.0, 0.055, 0.2), (0.09, 0.058, 0.2), (0.17, 0.07, 0.15), (0.26, 0.065, 0.15),
           (0.34, 0.055, 0.2), (0.43, 0.058, 0.2), (0.51, 0.044, 0.25), (0.60, 0.035, 0.25), (0.68, 0.03, 0.3),
           (0.77, 0.041, 0.25), (0.85, 0.09, 0.15), (0.94, 0.143, 0.12)],
    1775: [(-0.87, 0.20, 0.1), (-0.62, 0.27, 0.1), (-0.34, 0.10, 0.15), (-0.13, 0.062, 0.2), (0.13, 0.072, 0.2),
           (0.38, 0.072, 0.2), (0.60, 0.041, 0.25), (0.75, 0.039, 0.25), (0.90, 0.157, 0.12)],
    1790: [(-0.68, 0.295, 0.1), (-0.34, 0.072, 0.2), (-0.09, 0.062, 0.2), (0.13, 0.072, 0.2), (0.30, 0.062, 0.2),
           (0.43, 0.039, 0.3), (0.56, 0.033, 0.35), (0.67, 0.015, 0.6), (0.77, 0.052, 0.25), (0.90, 0.10, 0.15)],
}

GREEN = {
    1775: [(-0.92, 0.173, 0.1), (-0.68, 0.28, 0.1), (-0.38, 0.135, 0.15), (-0.17, 0.085, 0.2), (0.04, 0.085, 0.2),
           (0.24, 0.10, 0.15), (0.34, 0.10, 0.15), (0.60, 0.052, 0.25), (0.73, 0.039, 0.3), (0.90, 0.184, 0.12)],
    1795: [(-0.85, 0.25, 0.1), (-0.64, 0.25, 0.1), (-0.43, 0.10, 0.15), (-0.17, 0.072, 0.2), (0.09, 0.062, 0.2),
           (0.34, 0.062, 0.2), (0.51, 0.045, 0.25), (0.68, 0.021, 0.35), (0.93, 0.25, 0.1)],
    1815: [(-0.87, 0.215, 0.1), (-0.81, 0.47, 0.1), (-0.75, 0.40, 0.1), (-0.67, 0.32, 0.1), (-0.56, 0.20, 0.12),
           (-0.44, 0.145, 0.12), (-0.34, 0.105, 0.15), (-0.24, 0.085, 0.15), (-0.13, 0.056, 0.2), (0.0, 0.056, 0.2),
           (0.10, 0.085, 0.15), (0.21, 0.085, 0.15), (0.32, 0.10, 0.15), (0.43, 0.077, 0.15), (0.51, 0.052, 0.2),
           (0.60, 0.033, 0.25), (0.67, 0.021, 0.3), (0.77, 0.115, 0.15), (0.85, 0.27, 0.1), (0.96, 0.47, 0.1)],
}

POINT_SETS = [(CYAN, '#19e6e6'), (MAGENTA, '#ff1aff'), (BLUE, '#1a1aff'), (RED, '#f21a1a'), (GREEN, '#3a9a3a')]

FONT = 'Liberation Sans, Arial, sans-serif'
NROWS, NCOLS = 5, 8

# pad area in pixels of the 706x529 canvas
FIG_W, FIG_H = 706, 529
PX_L, PX_R, PX_T, PX_B = 35, 702, 29, 493
pw, ph = PX_R - PX_L, PX_B - PX_T


def px_x(x):
    return (x - PX_L) / pw


def px_y(y):
    return (PX_B - y) / ph


fig = make_subplots(rows=NROWS, cols=NCOLS, horizontal_spacing=0, vertical_spacing=0)

for i, w in enumerate(W_LIST):
    r, c = i // NCOLS + 1, i % NCOLS + 1

    for pts, col in POINT_SETS:
        if w not in pts:
            continue
        xs = [p[0] for p in pts[w]]
        ys = [p[1] for p in pts[w]]
        up = [p[1] * p[2] for p in pts[w]]
        # bars that would cross zero just run off the bottom of the log pad
        down = [min(p[1] * p[2], p[1] * 0.9999) for p in pts[w]]
        fig.add_trace(go.Scatter(
            x=xs, y=ys, mode='markers',
            marker=dict(symbol='circle-open', size=6, color=col, line=dict(width=1.3, color=col)),
            error_y=dict(type='data', symmetric=False, array=up, arrayminus=down,
                         color=col, thickness=1.4, width=0),
            showlegend=False, hoverinfo='skip'), row=r, col=c)

    if w in DASHED:
        fig.add_trace(go.Scatter(
            x=COS_GRID, y=DASHED[w], mode='lines',
            line=dict(color='black', width=1.3, dash='3px,2px', shape='spline', smoothing=0.9),
            showlegend=False, hoverinfo='skip'), row=r, col=c)

    fig.add_trace(go.Scatter(
        x=COS_GRID, y=SOLID[w], mode='lines',
        line=dict(color='black', width=1.8, shape='spline', smoothing=0.9),
        showlegend=False, hoverinfo='skip'), row=r, col=c)

    # energy label in the upper-left corner of every pad
    sfx = '' if i == 0 else str(i + 1)
    fig.add_annotation(text=f'W={w}', xref=f'x{sfx} domain', yref=f'y{sfx} domain',
                       x=0.14, y=0.94, xanchor='left', yanchor='middle', showarrow=False,
                       font=dict(family=FONT, size=12.5, color='black'))

# minor ticks of the log axis: 2..9 in every decade
minor_y = []
for dec in [0.001, 0.01, 0.1, 1]:
    for k in range(2, 10):
        minor_y.append(dec * k)

fig.update_xaxes(range=[-1.07, 1.07], tick0=-1, dtick=1, ticks='inside', ticklen=6, tickwidth=1,
                 tickcolor='black', minor=dict(tick0=-1, dtick=0.2, ticks='inside', ticklen=3, tickcolor='black'),
                 showline=True, linecolor='black', linewidth=1, mirror=True, showgrid=False, zeroline=False,
                 showticklabels=False, tickfont=dict(family=FONT, size=14, color='black'))
fig.update_xaxes(showticklabels=True, row=NROWS)

fig.update_yaxes(type='log', range=[-3.03, 0.74], tickmode='array', tickvals=[0.001, 0.01, 0.1, 1],
                 ticks='inside', ticklen=6, tickwidth=1, tickcolor='black',
                 minor=dict(tickmode='array', tickvals=minor_y, ticks='inside', ticklen=3, tickcolor='black'),
                 showline=True, linecolor='black', linewidth=1, mirror=True, showgrid=False, zeroline=False,
                 showticklabels=False)

# ROOT-style decade labels on the left column
for r in range(NROWS):
    sfx = '' if r == 0 else str(r * NCOLS + 1)
    for lg, base, expo in [(0, '1', ''), (-1, '10', '-1'), (-2, '10', '-2')]:
        fig.add_annotation(text=base, xref='paper', yref=f'y{sfx}', x=px_x(13), y=lg,
                           xanchor='center', yanchor='middle', showarrow=False,
                           font=dict(family=FONT, size=17, color='black'))
        if expo:
            fig.add_annotation(text=expo, xref='paper', yref=f'y{sfx}', x=px_x(28), y=lg, yshift=12,
                               xanchor='center', yanchor='middle', showarrow=False,
                               font=dict(family=FONT, size=12, color='black'))

fig.add_annotation(text='dσ/dΩ, mb/sr (K<sup>-</sup>p → π<sup>+</sup>Σ<sup>-</sup>)', xref='paper', yref='paper',
                   x=px_x(352), y=px_y(15), xanchor='center', yanchor='middle', showarrow=False,
                   font=dict(family=FONT, size=18, color='black'))
fig.add_annotation(text='cos θ', xref='paper', yref='paper', x=px_x(702), y=px_y(517),
                   xanchor='right', yanchor='middle', showarrow=False,
                   font=dict(family=FONT, size=19, color='black'))

fig.update_layout(width=FIG_W, height=FIG_H,
                  margin=dict(l=PX_L, r=FIG_W - PX_R, t=PX_T, b=FIG_H - PX_B),
                  paper_bgcolor='white', plot_bgcolor='white', showlegend=False)

# the default page keeps an 8px body margin; drop it so the canvas sits at the window corner
fig.write_html("out.html", config={'displayModeBar': False},
               post_script="document.body.style.margin = '0';")
